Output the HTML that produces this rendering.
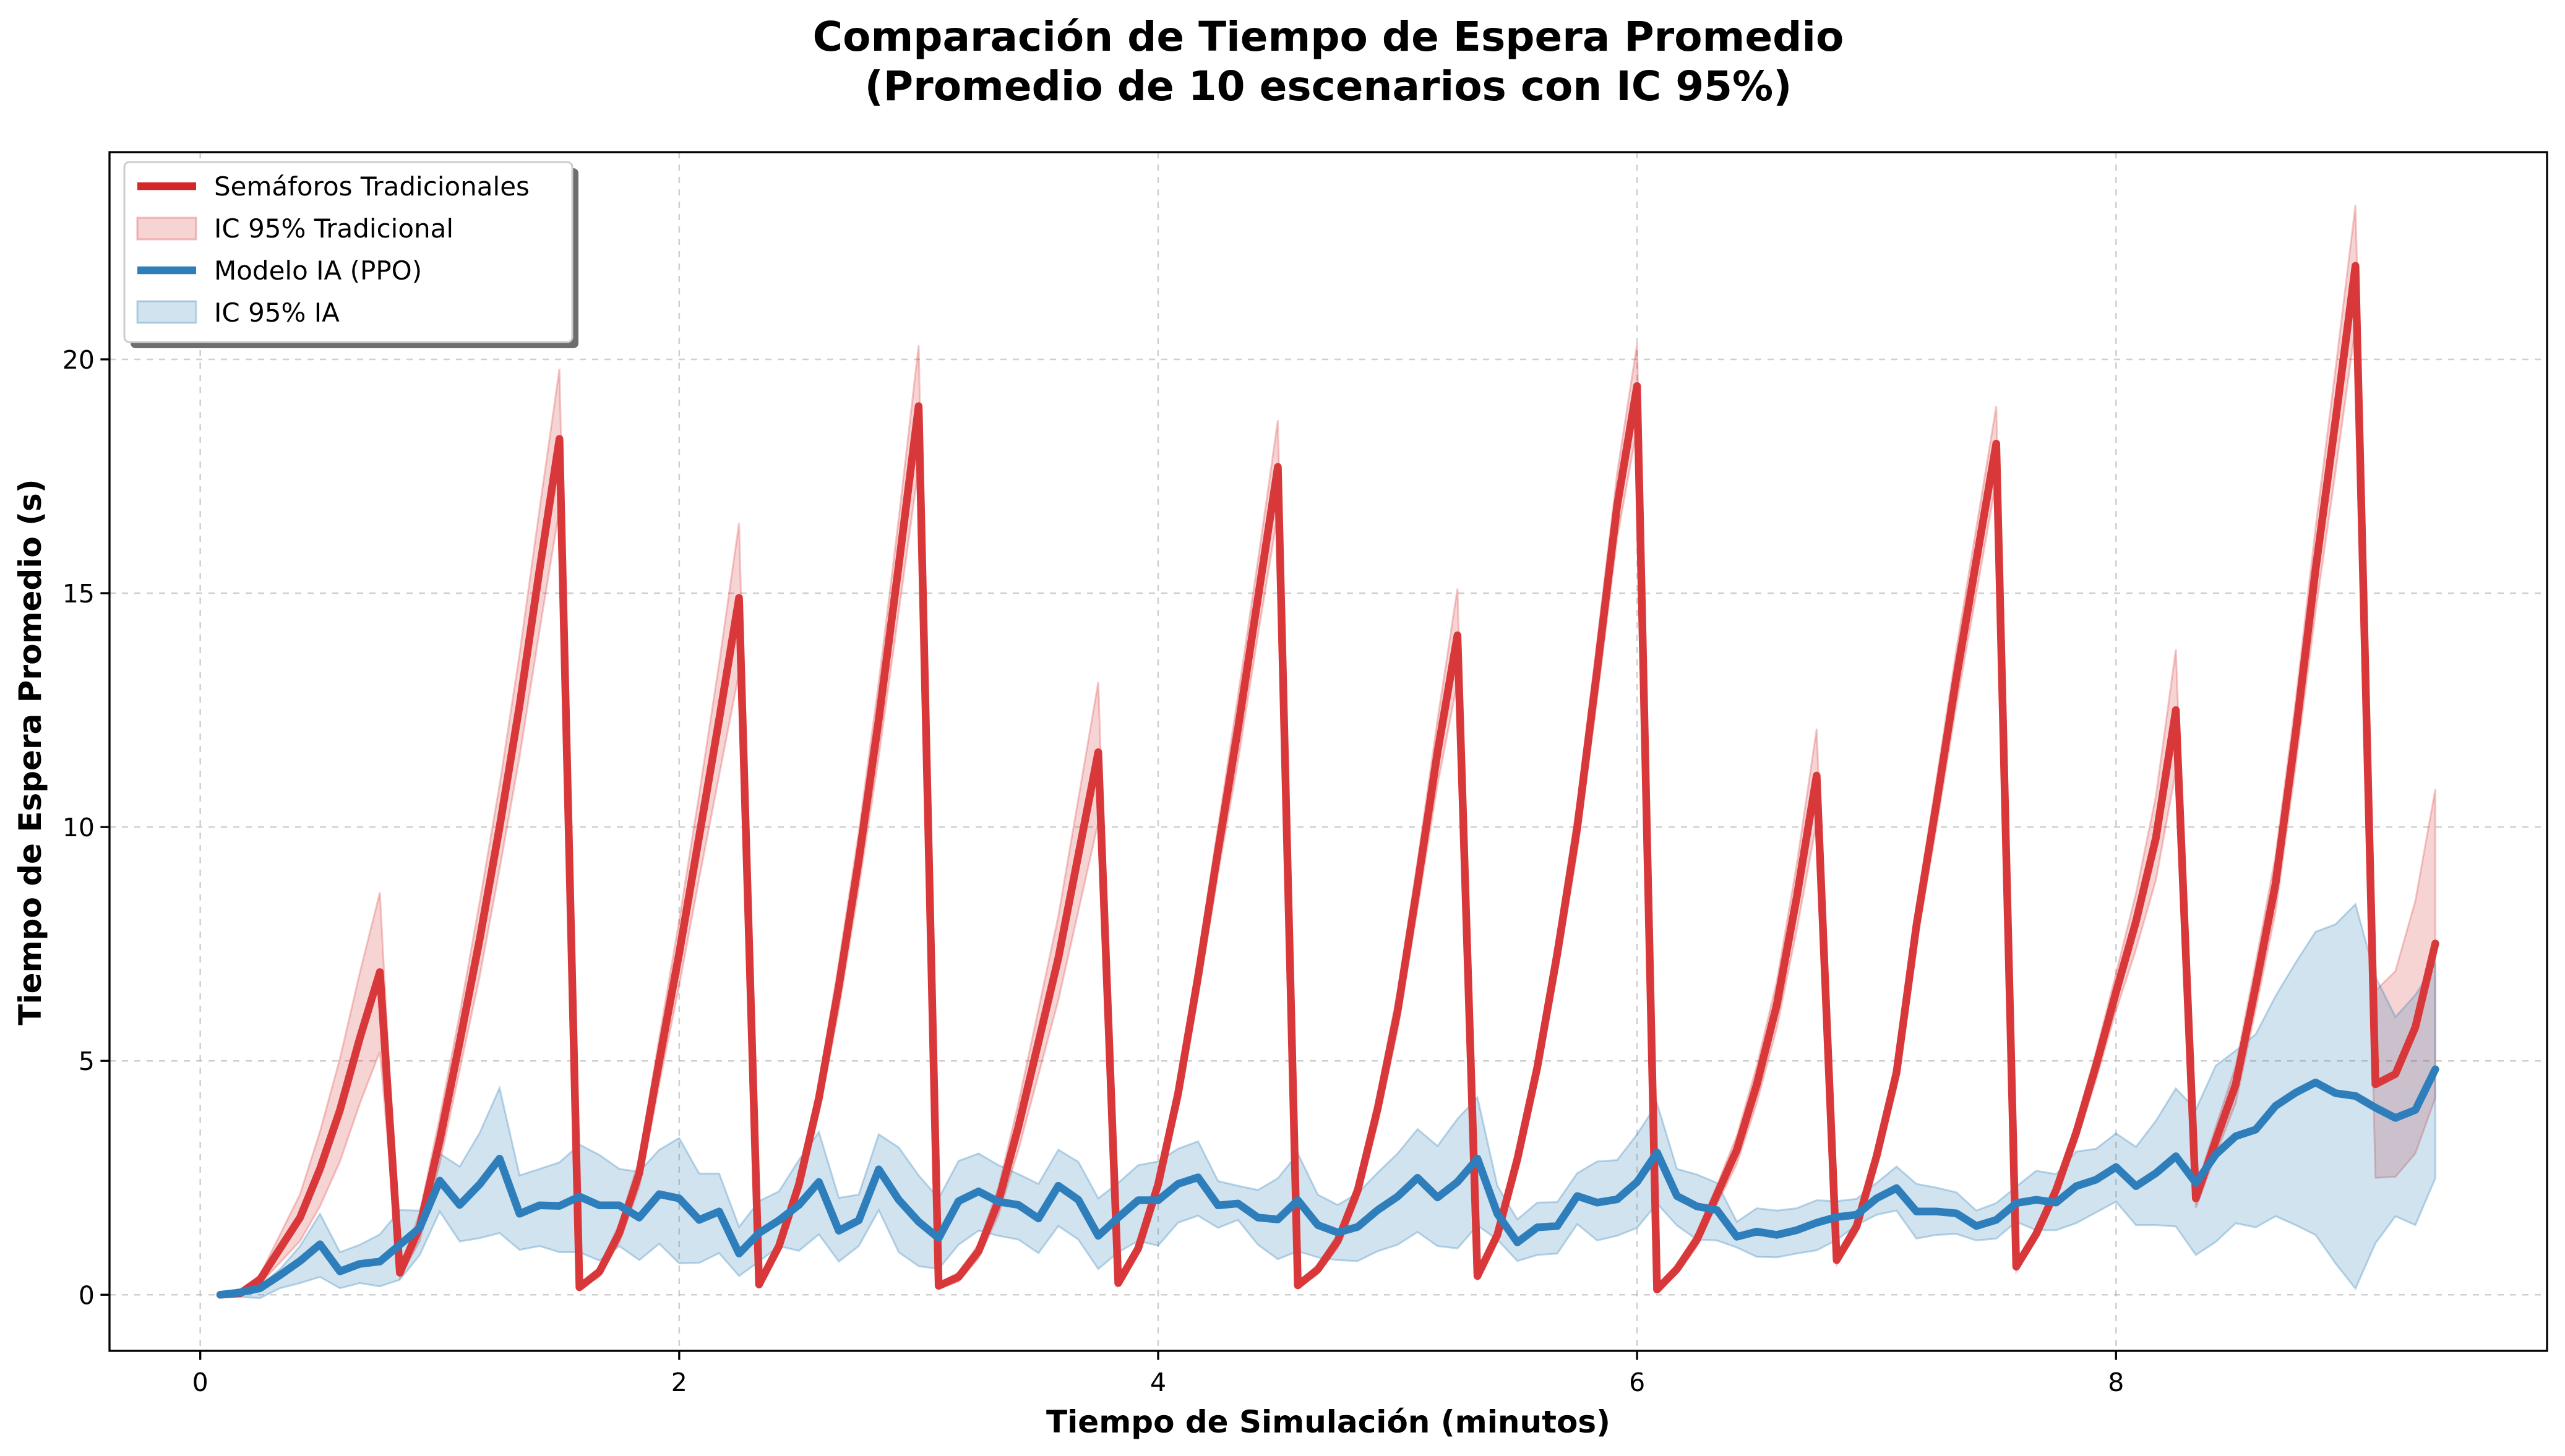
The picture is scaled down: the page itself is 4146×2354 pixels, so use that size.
<!DOCTYPE html>
<html><head><meta charset="utf-8">
<style>
html,body{margin:0;padding:0;background:#fff;}
svg{display:block;font-family:"DejaVu Sans","Liberation Sans",sans-serif;}
</style></head>
<body>
<svg id="chart" width="4146" height="2354" viewBox="0 0 4146 2354" xmlns="http://www.w3.org/2000/svg">
<rect x="0" y="0" width="4146" height="2354" fill="#fff"/>
<text x="2147" y="82" text-anchor="middle" font-size="66" font-weight="bold" fill="#000">Comparación de Tiempo de Espera Promedio</text>
<text x="2147" y="162" text-anchor="middle" font-size="66" font-weight="bold" fill="#000">(Promedio de 10 escenarios con IC 95%)</text>
<g id="grid"></g>
<g id="series"></g>
<rect x="177" y="246" width="3940" height="1938" fill="none" stroke="#000" stroke-width="3.3"/>
<g id="ticks"></g>
<text x="2147" y="2316" text-anchor="middle" font-size="50" font-weight="bold">Tiempo de Simulación (minutos)</text>
<text transform="translate(66,1216) rotate(-90)" text-anchor="middle" font-size="50" font-weight="bold">Tiempo de Espera Promedio (s)</text>
<g>
  <rect x="211" y="272" width="724" height="291" rx="8" fill="#555" opacity="0.85"/>
  <rect x="201" y="262" width="724" height="291" rx="8" fill="#fff" stroke="#ccc" stroke-width="3"/>
  <g>
    <line x1="222" y1="301" x2="317" y2="301" stroke="#d62728" stroke-width="12.5"/>
    <text x="346" y="316" font-size="42">Semáforos Tradicionales</text>
  </g>
  <g>
    <rect x="222" y="352" width="95" height="35" fill="rgba(214,39,40,0.2)" stroke="rgba(214,39,40,0.3)" stroke-width="3"/>
    <text x="346" y="384" font-size="42">IC 95% Tradicional</text>
  </g>
  <g>
    <line x1="222" y1="437" x2="317" y2="437" stroke="#2c7fb8" stroke-width="12.5"/>
    <text x="346" y="452" font-size="42">Modelo IA (PPO)</text>
  </g>
  <g>
    <rect x="222" y="487" width="95" height="35" fill="rgba(44,127,184,0.22)" stroke="rgba(44,127,184,0.3)" stroke-width="3"/>
    <text x="346" y="520" font-size="42">IC 95% IA</text>
  </g>
</g>
</svg>
<script>
const xTicks = [0, 2, 4, 6, 8];
const yTicks = [0, 5, 10, 15, 20];
const redMean = [
0,0.03,0.33,0.99,1.65,2.69,3.95,5.49,6.9,
0.47,1.45,3.3,5.4,7.6,10.0,12.6,15.5,18.3,
0.16,0.49,1.32,2.6,5.0,7.3,9.8,12.3,14.9,
0.22,1.04,2.36,4.2,6.6,9.3,12.3,15.6,19.0,
0.19,0.38,0.93,2.0,3.6,5.4,7.2,9.4,11.6,
0.25,0.99,2.36,4.3,6.8,9.5,12.1,14.9,17.7,
0.2,0.54,1.15,2.23,3.98,6.07,8.77,11.6,14.1,
0.4,1.28,2.9,4.86,7.29,9.99,13.36,16.87,19.43,
0.11,0.55,1.18,2.14,3.1,4.5,6.2,8.5,11.1,
0.74,1.46,2.96,4.75,7.9,10.5,13.2,15.7,18.2,
0.6,1.3,2.24,3.46,4.9,6.47,7.98,9.77,12.5,
2.06,3.3,4.5,6.6,8.8,12.0,15.5,18.7,22.0,
4.5,4.72,5.72,7.51];
const redErr = [
0,0.02,0.1,0.3,0.5,0.8,1.1,1.4,1.7,
0.1,0.3,0.5,0.6,0.8,0.9,1.1,1.3,1.5,
0.05,0.1,0.2,0.3,0.5,0.7,0.9,1.2,1.6,
0.05,0.1,0.2,0.3,0.5,0.6,0.8,1.0,1.3,
0.05,0.1,0.15,0.3,0.5,0.7,0.9,1.2,1.5,
0.05,0.1,0.2,0.3,0.4,0.5,0.7,0.8,1.0,
0.05,0.1,0.15,0.2,0.3,0.4,0.5,0.7,1.0,
0.05,0.1,0.2,0.3,0.4,0.5,0.6,0.7,0.9,
0.05,0.1,0.15,0.2,0.3,0.4,0.5,0.7,1.0,
0.1,0.15,0.2,0.3,0.4,0.5,0.6,0.7,0.8,
0.1,0.1,0.15,0.2,0.3,0.4,0.6,0.9,1.3,
0.2,0.3,0.4,0.5,0.6,0.7,0.9,1.1,1.3,
2.0,2.2,2.7,3.3];
const blueMean = [
0,0.05,0.14,0.42,0.72,1.08,0.50,0.66,0.71,1.07,1.43,2.44,1.92,2.36,2.91,1.73,1.91,1.90,2.10,1.91,
1.91,1.65,2.15,2.06,1.60,1.78,0.88,1.32,1.59,1.92,2.41,1.37,1.59,2.68,2.03,1.56,1.21,2.00,2.21,1.99,
1.92,1.63,2.33,2.03,1.26,1.65,2.02,2.02,2.37,2.51,1.91,1.95,1.65,1.61,2.02,1.49,1.33,1.45,1.81,2.10,
2.50,2.08,2.41,2.91,1.73,1.12,1.44,1.47,2.11,1.97,2.04,2.41,3.04,2.11,1.89,1.81,1.24,1.35,1.28,1.38,
1.54,1.66,1.71,2.06,2.28,1.78,1.78,1.74,1.47,1.60,1.96,2.03,1.97,2.32,2.46,2.73,2.32,2.60,2.96,2.39,
3.00,3.39,3.53,4.04,4.32,4.54,4.31,4.25,4.00,3.78,3.95,4.82];
const blueHi = [
0,0.11,0.19,0.55,1.04,1.73,0.91,1.07,1.29,1.81,1.80,3.02,2.74,3.46,4.42,2.55,2.69,2.83,3.21,2.99,
2.69,2.63,3.10,3.35,2.59,2.59,1.45,2.00,2.21,2.88,3.48,2.07,2.14,3.43,3.15,2.55,2.06,2.86,3.02,2.77,
2.58,2.37,3.10,2.84,2.06,2.39,2.77,2.85,3.12,3.28,2.43,2.33,2.24,2.49,3.02,2.14,1.92,2.17,2.61,3.02,
3.54,3.18,3.76,4.22,2.33,1.61,1.97,1.98,2.60,2.85,2.88,3.43,4.09,2.69,2.57,2.39,1.56,1.85,1.80,1.85,
2.02,2.00,2.05,2.39,2.74,2.37,2.29,2.19,1.80,1.96,2.31,2.65,2.58,3.06,3.12,3.45,3.16,3.72,4.41,3.96,
4.90,5.22,5.57,6.39,7.10,7.76,7.92,8.35,6.80,5.94,6.41,7.08];
const blueLo = [
0,-0.05,-0.07,0.14,0.25,0.38,0.14,0.25,0.18,0.32,0.85,1.78,1.14,1.21,1.32,0.96,1.04,0.91,0.91,0.73,
1.04,0.74,1.09,0.67,0.68,0.89,0.40,0.71,1.04,0.94,1.29,0.71,1.04,1.81,0.91,0.61,0.55,1.07,1.37,1.26,
1.18,0.89,1.47,1.18,0.55,0.91,1.15,1.05,1.54,1.69,1.43,1.60,1.07,0.76,0.93,0.80,0.74,0.72,0.93,1.07,
1.34,1.04,0.99,1.48,1.18,0.72,0.85,0.88,1.51,1.16,1.26,1.43,1.95,1.48,1.18,1.16,1.01,0.81,0.80,0.88,
0.95,1.17,1.49,1.71,1.80,1.20,1.28,1.30,1.16,1.20,1.56,1.38,1.38,1.53,1.76,1.99,1.49,1.49,1.46,0.85,
1.13,1.53,1.44,1.68,1.49,1.28,0.67,0.13,1.10,1.68,1.49,2.49];
const stepMin = 5/60;

const NS = 'http://www.w3.org/2000/svg';
const PL = 177, PR = 4117, PT = 246, PB = 2184;
const X0 = -0.379, X1 = 9.80, Y0 = -1.2, Y1 = 24.43;
function sx(t){ return PL + (t - X0) / (X1 - X0) * (PR - PL); }
function sy(v){ return PB - (v - Y0) / (Y1 - Y0) * (PB - PT); }
function el(tag, attrs, parent){
  const e = document.createElementNS(NS, tag);
  for (const k in attrs) e.setAttribute(k, attrs[k]);
  parent.appendChild(e);
  return e;
}
const grid = document.getElementById('grid');
const ticks = document.getElementById('ticks');
const series = document.getElementById('series');

xTicks.forEach(t => {
  const g = el('line', {x1: sx(t), x2: sx(t), y1: PT, y2: PB, stroke: '#b0b0b0', 'stroke-width': 2.5, 'stroke-dasharray': '10,10', opacity: 0.6}, grid);
  
  
  const tk = el('line', {x1: sx(t), x2: sx(t), y1: PB, y2: PB + 14.6, stroke: '#000', 'stroke-width': 3.3}, ticks);
  
  
  const lb = el('text', {x: sx(t), y: PB + 65, 'text-anchor': 'middle', 'font-size': 41}, ticks);
  lb.textContent = t;
  
  
});
yTicks.forEach(v => {
  const g = el('line', {x1: PL, x2: PR, y1: sy(v), y2: sy(v), stroke: '#b0b0b0', 'stroke-width': 2.5, 'stroke-dasharray': '10,10', opacity: 0.6}, grid);
  
  
  const tk = el('line', {x1: PL - 14.6, x2: PL, y1: sy(v), y2: sy(v), stroke: '#000', 'stroke-width': 3.3}, ticks);
  
  
  const lb = el('text', {x: PL - 24, y: sy(v) + 15, 'text-anchor': 'end', 'font-size': 41}, ticks);
  lb.textContent = v;
  
  
});

function tOf(i){ return (i + 1) * stepMin; }
function bandPath(lo, hi){
  let d = '';
  for (let i = 0; i < hi.length; i++) d += (i ? 'L' : 'M') + sx(tOf(i)).toFixed(1) + ',' + sy(hi[i]).toFixed(1);
  for (let i = lo.length - 1; i >= 0; i--) d += 'L' + sx(tOf(i)).toFixed(1) + ',' + sy(lo[i]).toFixed(1);
  return d + 'Z';
}
function linePath(vals){
  let d = '';
  for (let i = 0; i < vals.length; i++) d += (i ? 'L' : 'M') + sx(tOf(i)).toFixed(1) + ',' + sy(vals[i]).toFixed(1);
  return d;
}
const redHi = redMean.map((v, i) => v + redErr[i]);
const redLo = redMean.map((v, i) => v - redErr[i]);

const rb = el('path', {d: bandPath(redLo, redHi), fill: 'rgba(214,39,40,0.2)', stroke: 'rgba(214,39,40,0.25)', 'stroke-width': 3}, series);


const bb = el('path', {d: bandPath(blueLo, blueHi), fill: 'rgba(44,127,184,0.22)', stroke: 'rgba(44,127,184,0.3)', 'stroke-width': 3}, series);


const rl = el('path', {d: linePath(redMean), fill: 'none', stroke: '#d9383a', 'stroke-width': 12.5, 'stroke-linejoin': 'round', 'stroke-linecap': 'round'}, series);


const bl = el('path', {d: linePath(blueMean), fill: 'none', stroke: '#2e7ebc', 'stroke-width': 12.5, 'stroke-linejoin': 'round', 'stroke-linecap': 'round'}, series);


</script>
</body></html>
